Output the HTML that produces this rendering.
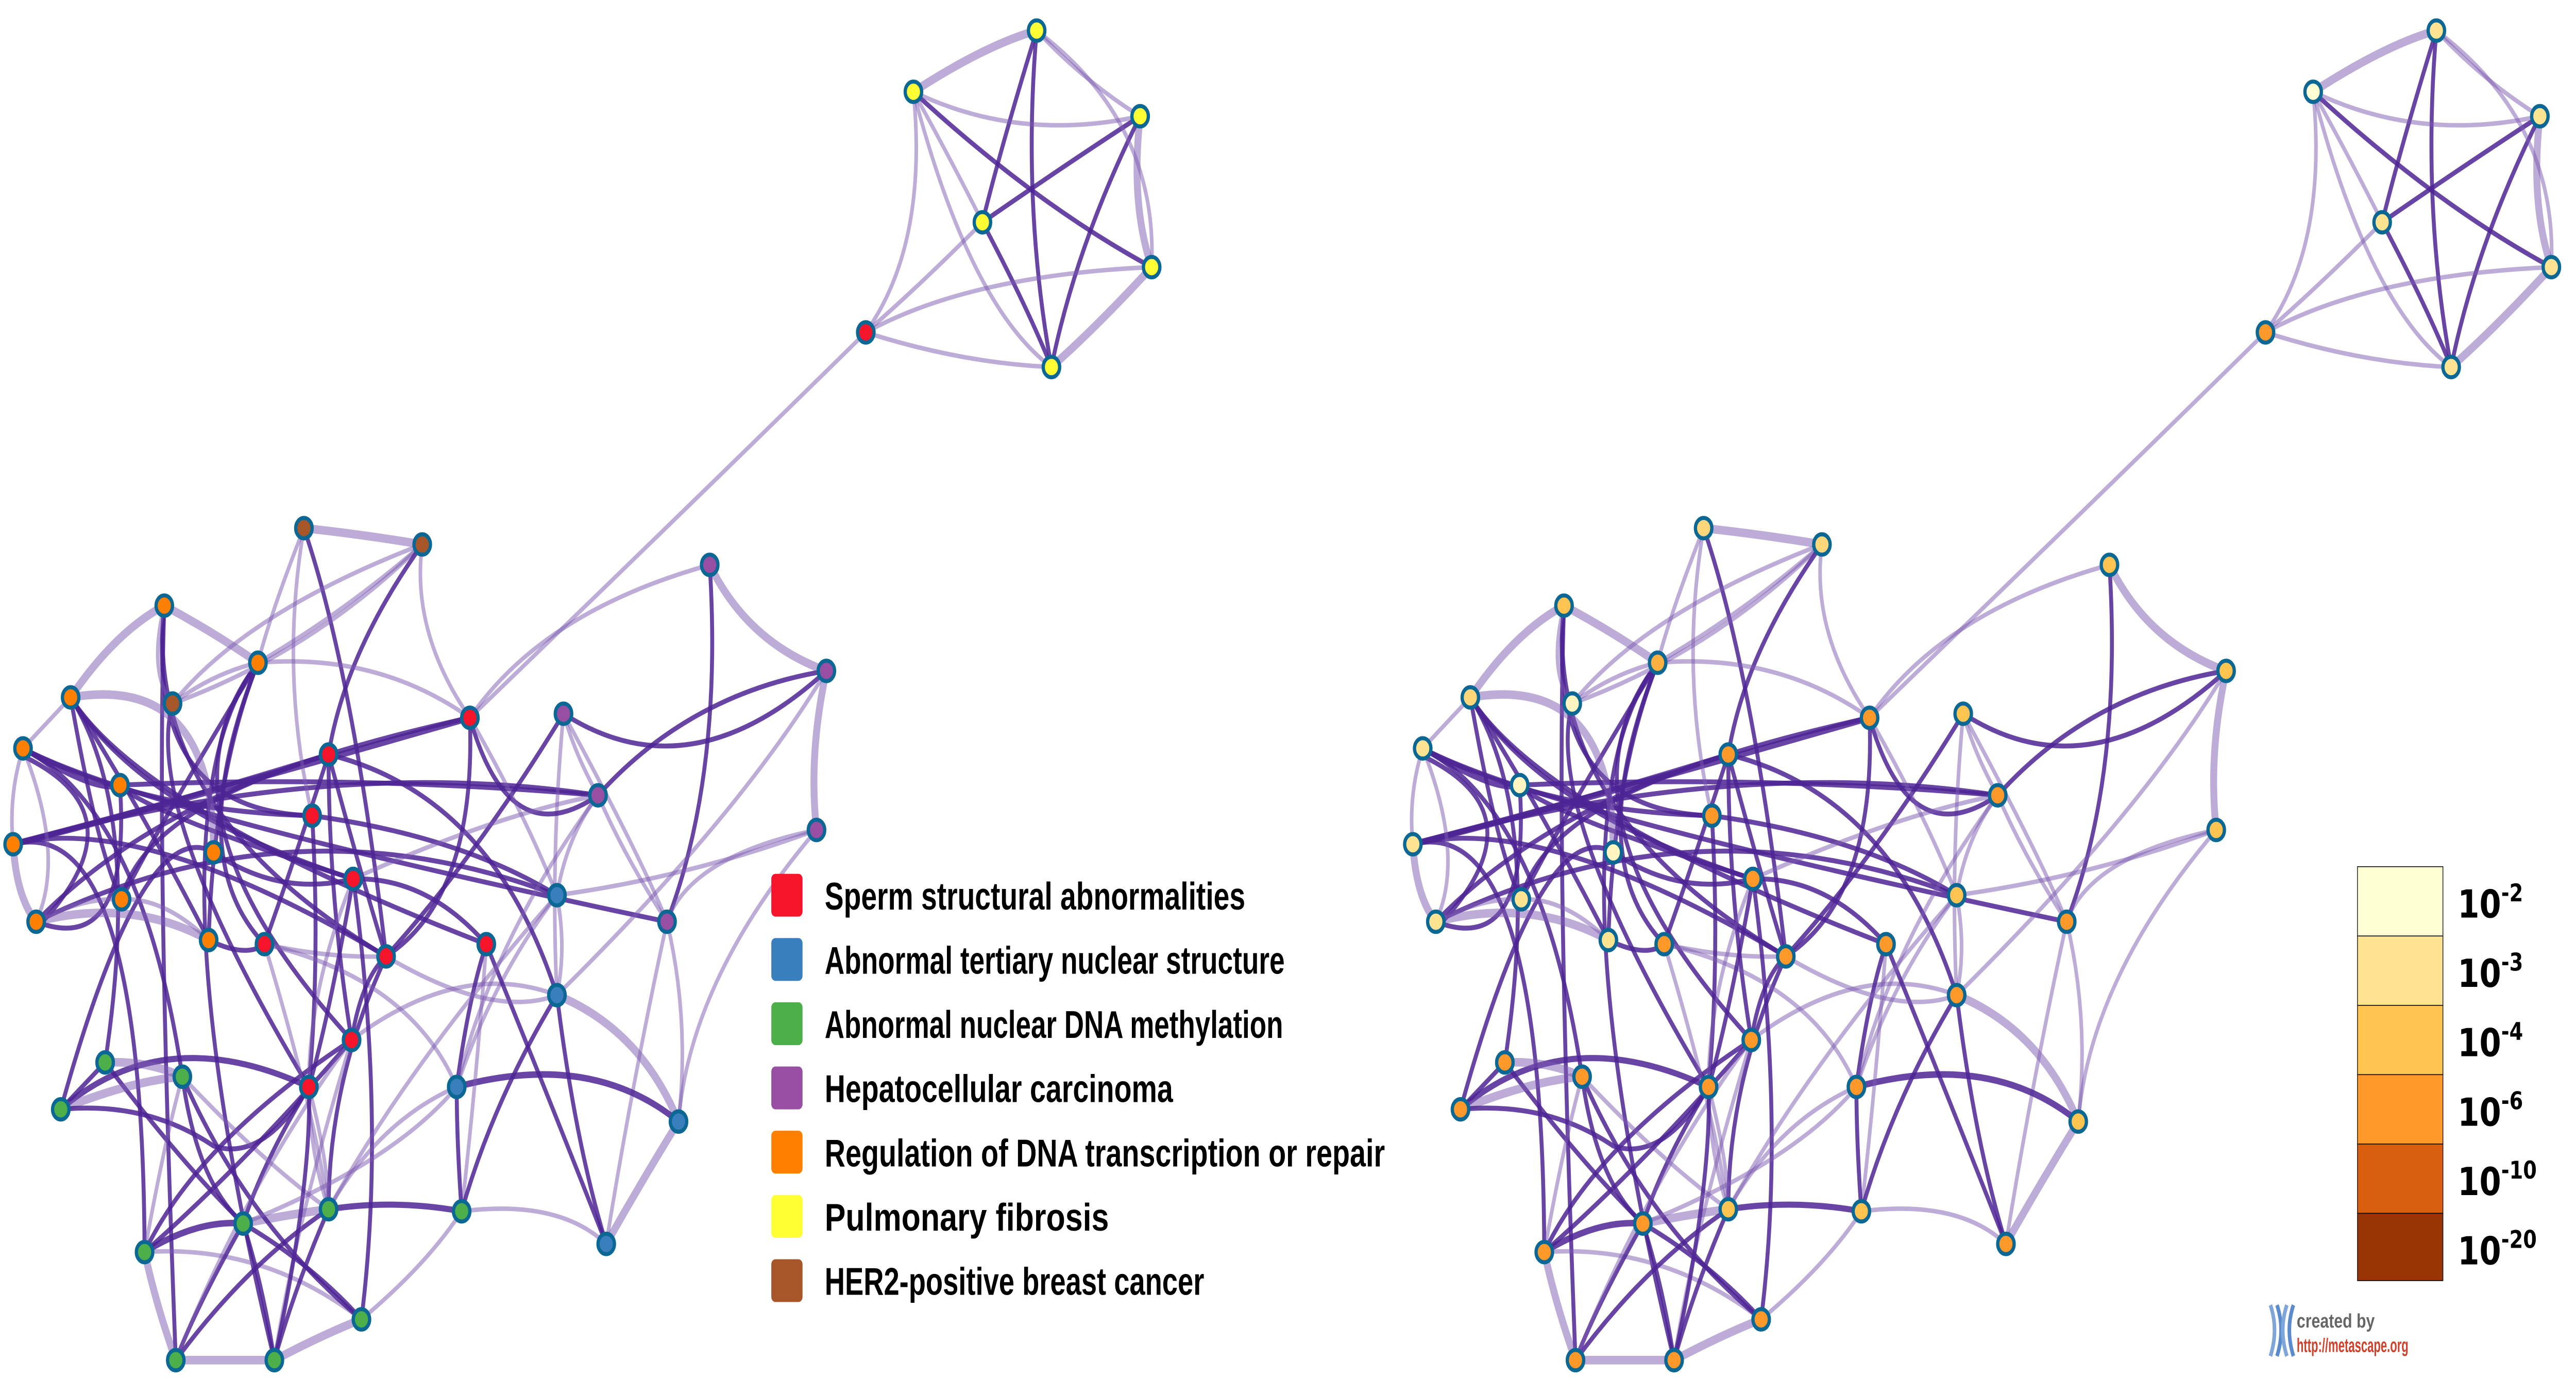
<!DOCTYPE html>
<html><head><meta charset="utf-8">
<style>
html,body{margin:0;padding:0;background:#fff;width:100%;height:100%;overflow:hidden;}
svg{display:block;position:absolute;left:0;top:0;width:100vw;height:100vh;}
.d{fill:none;stroke:#4e2494;stroke-opacity:.85;stroke-width:2.4;stroke-linecap:round;}
.l{fill:none;stroke:#7b5aaf;stroke-opacity:.5;stroke-width:2.2;stroke-linecap:round;}
.t{fill:none;stroke:#7b5aaf;stroke-opacity:.5;stroke-width:4.2;stroke-linecap:round;}
.n circle{stroke:#0b6894;stroke-width:2;}
.lg{font-family:"Liberation Sans Narrow","Liberation Sans",sans-serif;font-weight:bold;font-size:19px;fill:#000;}
.sc{font-family:"DejaVu Sans","Liberation Sans",sans-serif;font-weight:bold;fill:#000;}
</style></head>
<body>
<svg viewBox="0 0 1568 683.6" preserveAspectRatio="none" xmlns="http://www.w3.org/2000/svg">
<defs>
<g id="net">
<path class="t" d="M556,45 Q600,22 631,15"/>
<path class="l" d="M631,15 Q660,40 694,57"/>
<path class="d" d="M631,15 Q622,100 640,180"/>
<path class="d" d="M631,15 Q610,70 598,109"/>
<path class="l" d="M556,45 Q580,80 598,109"/>
<path class="d" d="M556,45 Q630,100 701,131"/>
<path class="l" d="M556,45 Q565,120 527,163"/>
<path class="l" d="M556,45 Q590,150 640,180"/>
<path class="d" d="M694,57 Q650,80 598,109"/>
<path class="t" d="M694,57 Q688,100 701,131"/>
<path class="d" d="M694,57 Q655,120 640,180"/>
<path class="d" d="M598,109 Q625,150 640,180"/>
<path class="l" d="M598,109 Q560,140 527,163"/>
<path class="t" d="M701,131 Q668,160 640,180"/>
<path class="l" d="M527,163 Q590,135 701,131"/>
<path class="l" d="M527,163 Q585,178 640,180"/>
<path class="l" d="M631,15 Q705,60 701,131"/>
<path class="l" d="M694,57 Q620,70 556,45"/>
<path class="l" d="M527,163 Q430,240 286,352"/>
<path class="d" d="M100,297 Q87,398 235,469"/>
<path class="d" d="M157,325 Q87,398 214,510"/>
<path class="d" d="M43,342 Q87,398 215,431"/>
<path class="d" d="M43,342 Q87,398 127,461"/>
<path class="d" d="M14,367 Q87,398 190,400"/>
<path class="d" d="M8,414 Q87,398 200,370"/>
<path class="d" d="M8,414 Q87,398 286,352" style="stroke-width:3.2"/>
<path class="d" d="M8,414 Q87,398 235,469"/>
<path class="d" d="M22,452 Q87,398 200,370"/>
<path class="d" d="M74,441 Q87,398 200,370"/>
<path class="d" d="M73,385 Q87,398 215,431"/>
<path class="d" d="M105,345 Q87,398 188,533"/>
<path class="d" d="M130,418 Q87,398 37,544"/>
<path class="d" d="M14,367 Q87,398 111,528"/>
<path class="d" d="M43,342 Q87,398 64,521"/>
<path class="d" d="M8,414 Q87,398 88,614"/>
<path class="d" d="M100,297 Q95,420 107,667"/>
<path class="d" d="M157,325 Q87,398 167,667"/>
<path class="d" d="M43,342 Q87,398 296,463"/>
<path class="d" d="M14,367 Q87,398 406,452"/>
<path class="d" d="M8,414 Q200,370 364,390"/>
<path class="d" d="M22,452 Q180,390 339,439"/>
<path class="d" d="M73,385 Q220,380 364,390"/>
<path class="d" d="M100,297 Q87,398 190,400"/>
<path class="d" d="M12,370 Q87,398 26,452"/>
<path class="d" d="M43,342 Q60,420 74,441"/>
<path class="d" d="M157,325 Q130,380 127,461"/>
<path class="d" d="M157,325 Q100,400 74,441"/>
<path class="d" d="M157,325 Q110,420 161,463"/>
<path class="d" d="M73,385 Q80,470 22,452"/>
<path class="d" d="M14,367 Q60,390 73,385"/>
<path class="t" d="M185,259 Q220,262 257,267"/>
<path class="l" d="M185,259 Q165,300 157,325"/>
<path class="d" d="M185,259 Q215,330 235,469"/>
<path class="l" d="M257,267 Q210,300 157,325"/>
<path class="l" d="M257,267 Q190,320 105,345"/>
<path class="d" d="M257,267 Q210,320 200,370"/>
<path class="l" d="M257,267 Q250,310 286,352"/>
<path class="l" d="M185,259 Q170,330 190,400"/>
<path class="t" d="M100,297 Q130,310 157,325"/>
<path class="l" d="M157,325 Q230,320 286,352"/>
<path class="l" d="M105,345 Q130,330 157,325"/>
<path class="l" d="M43,342 L14,367"/>
<path class="t" d="M43,342 Q70,310 100,297"/>
<path class="l" d="M14,367 Q5,390 8,414"/>
<path class="l" d="M14,367 Q40,420 22,452"/>
<path class="t" d="M8,414 Q10,440 22,452"/>
<path class="l" d="M22,452 Q50,440 74,441"/>
<path class="t" d="M22,452 Q80,440 127,461"/>
<path class="l" d="M74,441 Q100,440 127,461"/>
<path class="d" d="M130,418 Q170,440 215,431"/>
<path class="d" d="M127,461 Q150,470 161,463"/>
<path class="l" d="M161,463 Q200,470 235,469"/>
<path class="t" d="M43,342 Q130,330 130,418"/>
<path class="l" d="M100,297 Q90,330 105,345"/>
<path class="l" d="M105,345 Q150,300 257,267"/>
<path class="d" d="M200,370 Q240,360 286,352"/>
<path class="d" d="M286,352 Q290,440 235,469"/>
<path class="d" d="M343,350 Q290,420 235,469"/>
<path class="l" d="M343,350 Q350,370 364,390"/>
<path class="l" d="M343,350 Q335,420 339,488"/>
<path class="d" d="M343,350 Q420,390 503,329"/>
<path class="d" d="M364,390 Q420,340 503,329"/>
<path class="d" d="M432,277 Q440,380 406,452"/>
<path class="t" d="M432,277 Q455,315 503,329"/>
<path class="t" d="M503,329 Q492,370 497,407"/>
<path class="l" d="M497,407 Q420,420 406,452"/>
<path class="l" d="M406,452 Q385,530 369,610"/>
<path class="d" d="M190,400 Q280,410 339,439"/>
<path class="l" d="M364,390 Q345,410 339,439"/>
<path class="l" d="M339,439 Q345,465 339,488"/>
<path class="l" d="M339,439 Q300,480 278,533"/>
<path class="t" d="M339,488 Q390,505 413,550"/>
<path class="d" d="M339,488 Q350,560 369,610"/>
<path class="l" d="M339,488 Q280,470 214,510"/>
<path class="d" d="M278,533 Q360,515 413,550" style="stroke-width:3.2"/>
<path class="d" d="M278,533 Q285,490 296,463"/>
<path class="t" d="M413,550 Q390,580 369,610"/>
<path class="d" d="M296,463 Q260,430 215,431"/>
<path class="d" d="M296,463 Q330,530 369,610"/>
<path class="d" d="M235,469 Q200,530 200,593"/>
<path class="d" d="M215,431 Q235,550 220,647"/>
<path class="d" d="M200,370 Q200,440 214,510"/>
<path class="d" d="M200,370 Q180,420 161,463"/>
<path class="d" d="M190,400 Q195,470 188,533"/>
<path class="d" d="M188,533 Q100,500 37,544" style="stroke-width:3"/>
<path class="d" d="M214,510 Q120,560 88,614"/>
<path class="d" d="M188,533 Q160,570 148,600"/>
<path class="d" d="M200,370 Q300,390 339,488"/>
<path class="d" d="M286,352 Q310,420 364,390"/>
<path class="l" d="M503,329 Q450,400 339,488"/>
<path class="l" d="M497,407 Q420,480 413,550"/>
<path class="l" d="M406,452 Q420,500 413,550"/>
<path class="l" d="M364,390 Q380,420 406,452"/>
<path class="l" d="M343,350 Q390,420 406,452"/>
<path class="l" d="M364,390 Q300,460 278,533"/>
<path class="l" d="M339,439 Q250,520 200,593"/>
<path class="l" d="M296,463 Q290,530 281,594"/>
<path class="d" d="M339,488 Q300,540 281,594"/>
<path class="l" d="M278,533 Q230,550 200,593"/>
<path class="l" d="M215,431 Q170,520 200,593"/>
<path class="l" d="M161,463 Q190,540 200,593"/>
<path class="l" d="M188,533 Q200,570 200,593"/>
<path class="l" d="M286,352 Q330,300 432,277"/>
<path class="l" d="M286,352 Q320,400 339,439"/>
<path class="l" d="M215,431 Q300,400 364,390"/>
<path class="l" d="M235,469 Q300,500 339,488"/>
<path class="l" d="M161,463 Q250,480 278,533"/>
<path class="l" d="M497,407 Q420,430 339,439"/>
<path class="d" d="M200,370 Q220,430 235,469"/>
<path class="d" d="M214,510 Q220,480 235,469"/>
<path class="d" d="M188,533 Q200,500 215,431"/>
<path class="d" d="M200,593 Q240,588 281,594" style="stroke-width:3"/>
<path class="l" d="M281,594 Q340,588 369,610"/>
<path class="d" d="M281,594 Q278,560 278,533"/>
<path class="t" d="M148,600 Q180,595 200,593"/>
<path class="t" d="M88,614 Q95,640 107,667"/>
<path class="t" d="M107,667 L167,667"/>
<path class="t" d="M167,667 Q195,655 220,647"/>
<path class="d" d="M88,614 Q120,598 148,600" style="stroke-width:3.2"/>
<path class="l" d="M88,614 Q160,610 220,647"/>
<path class="d" d="M148,600 Q120,640 107,667"/>
<path class="d" d="M148,600 Q160,630 167,667"/>
<path class="d" d="M148,600 Q190,620 220,647"/>
<path class="d" d="M200,593 Q150,620 107,667"/>
<path class="d" d="M200,593 Q180,630 167,667"/>
<path class="d" d="M111,528 Q150,600 220,647"/>
<path class="d" d="M64,521 Q110,570 148,600"/>
<path class="t" d="M64,521 Q90,520 111,528"/>
<path class="d" d="M37,544 L64,521"/>
<path class="t" d="M37,544 Q80,530 111,528"/>
<path class="d" d="M37,544 Q90,540 130,562 Q160,570 188,533"/>
<path class="l" d="M111,528 Q160,570 200,593"/>
<path class="d" d="M111,528 Q120,580 148,600"/>
<path class="l" d="M88,614 Q100,560 111,528"/>
<path class="d" d="M88,614 Q150,570 214,510"/>
<path class="l" d="M167,667 Q180,600 214,510"/>
<path class="l" d="M107,667 Q150,580 214,510"/>
<path class="d" d="M167,667 Q190,580 188,533"/>
<path class="l" d="M220,647 Q260,620 281,594"/>
<path class="l" d="M148,600 Q240,570 278,533"/>
</g>
</defs>

<use href="#net"/>
<use href="#net" transform="translate(852,0)"/>

<g class="n">
<circle cx="631" cy="15" r="5" fill="#ffff33"/>
<circle cx="556" cy="45" r="5" fill="#ffff33"/>
<circle cx="694" cy="57" r="5" fill="#ffff33"/>
<circle cx="598" cy="109" r="5" fill="#ffff33"/>
<circle cx="701" cy="131" r="5" fill="#ffff33"/>
<circle cx="640" cy="180" r="5" fill="#ffff33"/>
<circle cx="527" cy="163" r="5" fill="#f5142a"/>
<circle cx="185" cy="259" r="5" fill="#a65628"/>
<circle cx="257" cy="267" r="5" fill="#a65628"/>
<circle cx="100" cy="297" r="5" fill="#ff7f00"/>
<circle cx="157" cy="325" r="5" fill="#ff7f00"/>
<circle cx="105" cy="345" r="5" fill="#a65628"/>
<circle cx="43" cy="342" r="5" fill="#ff7f00"/>
<circle cx="14" cy="367" r="5" fill="#ff7f00"/>
<circle cx="73" cy="385" r="5" fill="#ff7f00"/>
<circle cx="8" cy="414" r="5" fill="#ff7f00"/>
<circle cx="130" cy="418" r="5" fill="#ff7f00"/>
<circle cx="22" cy="452" r="5" fill="#ff7f00"/>
<circle cx="74" cy="441" r="5" fill="#ff7f00"/>
<circle cx="127" cy="461" r="5" fill="#ff7f00"/>
<circle cx="200" cy="370" r="5" fill="#f5142a"/>
<circle cx="190" cy="400" r="5" fill="#f5142a"/>
<circle cx="215" cy="431" r="5" fill="#f5142a"/>
<circle cx="161" cy="463" r="5" fill="#f5142a"/>
<circle cx="235" cy="469" r="5" fill="#f5142a"/>
<circle cx="214" cy="510" r="5" fill="#f5142a"/>
<circle cx="188" cy="533" r="5" fill="#f5142a"/>
<circle cx="286" cy="352" r="5" fill="#f5142a"/>
<circle cx="343" cy="350" r="5" fill="#984ea3"/>
<circle cx="432" cy="277" r="5" fill="#984ea3"/>
<circle cx="503" cy="329" r="5" fill="#984ea3"/>
<circle cx="364" cy="390" r="5" fill="#984ea3"/>
<circle cx="497" cy="407" r="5" fill="#984ea3"/>
<circle cx="406" cy="452" r="5" fill="#984ea3"/>
<circle cx="339" cy="439" r="5" fill="#3a7fbd"/>
<circle cx="296" cy="463" r="5" fill="#f5142a"/>
<circle cx="339" cy="488" r="5" fill="#3a7fbd"/>
<circle cx="278" cy="533" r="5" fill="#3a7fbd"/>
<circle cx="413" cy="550" r="5" fill="#3a7fbd"/>
<circle cx="369" cy="610" r="5" fill="#3a7fbd"/>
<circle cx="64" cy="521" r="5" fill="#4daf4a"/>
<circle cx="111" cy="528" r="5" fill="#4daf4a"/>
<circle cx="37" cy="544" r="5" fill="#4daf4a"/>
<circle cx="148" cy="600" r="5" fill="#4daf4a"/>
<circle cx="200" cy="593" r="5" fill="#4daf4a"/>
<circle cx="281" cy="594" r="5" fill="#4daf4a"/>
<circle cx="88" cy="614" r="5" fill="#4daf4a"/>
<circle cx="220" cy="647" r="5" fill="#4daf4a"/>
<circle cx="107" cy="667" r="5" fill="#4daf4a"/>
<circle cx="167" cy="667" r="5" fill="#4daf4a"/>
</g>

<g class="n" transform="translate(852,0)">
<circle cx="631" cy="15" r="5" fill="#fee391"/>
<circle cx="556" cy="45" r="5" fill="#ffffd4"/>
<circle cx="694" cy="57" r="5" fill="#fee391"/>
<circle cx="598" cy="109" r="5" fill="#fee391"/>
<circle cx="701" cy="131" r="5" fill="#fee391"/>
<circle cx="640" cy="180" r="5" fill="#fee391"/>
<circle cx="527" cy="163" r="5" fill="#fe9929"/>
<circle cx="185" cy="259" r="5" fill="#fed77a"/>
<circle cx="257" cy="267" r="5" fill="#fed77a"/>
<circle cx="100" cy="297" r="5" fill="#fec44f"/>
<circle cx="157" cy="325" r="5" fill="#fbb040"/>
<circle cx="105" cy="345" r="5" fill="#fff5c0"/>
<circle cx="43" cy="342" r="5" fill="#fed77a"/>
<circle cx="14" cy="367" r="5" fill="#fee391"/>
<circle cx="73" cy="385" r="5" fill="#fff5c0"/>
<circle cx="8" cy="414" r="5" fill="#fee391"/>
<circle cx="130" cy="418" r="5" fill="#fff5c0"/>
<circle cx="22" cy="452" r="5" fill="#fee391"/>
<circle cx="74" cy="441" r="5" fill="#fee391"/>
<circle cx="127" cy="461" r="5" fill="#fee391"/>
<circle cx="200" cy="370" r="5" fill="#fe9929"/>
<circle cx="190" cy="400" r="5" fill="#fe9929"/>
<circle cx="215" cy="431" r="5" fill="#fe9929"/>
<circle cx="161" cy="463" r="5" fill="#fe9929"/>
<circle cx="235" cy="469" r="5" fill="#fe9929"/>
<circle cx="214" cy="510" r="5" fill="#fe9929"/>
<circle cx="188" cy="533" r="5" fill="#fe9929"/>
<circle cx="286" cy="352" r="5" fill="#fe9929"/>
<circle cx="343" cy="350" r="5" fill="#fec44f"/>
<circle cx="432" cy="277" r="5" fill="#fec44f"/>
<circle cx="503" cy="329" r="5" fill="#fec44f"/>
<circle cx="364" cy="390" r="5" fill="#fe9929"/>
<circle cx="497" cy="407" r="5" fill="#fec44f"/>
<circle cx="406" cy="452" r="5" fill="#fe9929"/>
<circle cx="339" cy="439" r="5" fill="#fec44f"/>
<circle cx="296" cy="463" r="5" fill="#fe9929"/>
<circle cx="339" cy="488" r="5" fill="#fe9929"/>
<circle cx="278" cy="533" r="5" fill="#fe9929"/>
<circle cx="413" cy="550" r="5" fill="#fec44f"/>
<circle cx="369" cy="610" r="5" fill="#fe9929"/>
<circle cx="64" cy="521" r="5" fill="#fe9929"/>
<circle cx="111" cy="528" r="5" fill="#fe9929"/>
<circle cx="37" cy="544" r="5" fill="#fe9929"/>
<circle cx="148" cy="600" r="5" fill="#fe9929"/>
<circle cx="200" cy="593" r="5" fill="#fec44f"/>
<circle cx="281" cy="594" r="5" fill="#fec44f"/>
<circle cx="88" cy="614" r="5" fill="#fe9929"/>
<circle cx="220" cy="647" r="5" fill="#fe9929"/>
<circle cx="107" cy="667" r="5" fill="#fe9929"/>
<circle cx="167" cy="667" r="5" fill="#fe9929"/>
</g>

<g>
<rect x="469.5" y="428.5" width="19" height="21" rx="2.5" fill="#f5142a"/>
<rect x="469.5" y="460" width="19" height="21" rx="2.5" fill="#3a7fbd"/>
<rect x="469.5" y="491.5" width="19" height="21" rx="2.5" fill="#4daf4a"/>
<rect x="469.5" y="523" width="19" height="21" rx="2.5" fill="#984ea3"/>
<rect x="469.5" y="554.5" width="19" height="21" rx="2.5" fill="#ff7f00"/>
<rect x="469.5" y="586" width="19" height="21" rx="2.5" fill="#ffff33"/>
<rect x="469.5" y="617.5" width="19" height="21" rx="2.5" fill="#a65628"/>
<text class="lg" x="502" y="446" textLength="256" lengthAdjust="spacingAndGlyphs">Sperm structural abnormalities</text>
<text class="lg" x="502" y="477.5" textLength="280" lengthAdjust="spacingAndGlyphs">Abnormal tertiary nuclear structure</text>
<text class="lg" x="502" y="509" textLength="279" lengthAdjust="spacingAndGlyphs">Abnormal nuclear DNA methylation</text>
<text class="lg" x="502" y="540.5" textLength="212" lengthAdjust="spacingAndGlyphs">Hepatocellular carcinoma</text>
<text class="lg" x="502" y="572" textLength="341" lengthAdjust="spacingAndGlyphs">Regulation of DNA transcription or repair</text>
<text class="lg" x="502" y="603.5" textLength="173" lengthAdjust="spacingAndGlyphs">Pulmonary fibrosis</text>
<text class="lg" x="502" y="635" textLength="231" lengthAdjust="spacingAndGlyphs">HER2-positive breast cancer</text>
</g>

<g stroke="#000" stroke-width="0.4">
<rect x="1435" y="425" width="52" height="34" fill="#ffffd4"/>
<rect x="1435" y="459" width="52" height="34" fill="#fee391"/>
<rect x="1435" y="493" width="52" height="34" fill="#fec44f"/>
<rect x="1435" y="527" width="52" height="34" fill="#fe9929"/>
<rect x="1435" y="561" width="52" height="34" fill="#d95f0e"/>
<rect x="1435" y="595" width="52" height="33" fill="#993404"/>
</g>
<g class="sc">
<text x="1496" y="450" font-size="19">10<tspan font-size="12" dy="-8">-2</tspan></text>
<text x="1496" y="484" font-size="19">10<tspan font-size="12" dy="-8">-3</tspan></text>
<text x="1496" y="518" font-size="19">10<tspan font-size="12" dy="-8">-4</tspan></text>
<text x="1496" y="552" font-size="19">10<tspan font-size="12" dy="-8">-6</tspan></text>
<text x="1496" y="586" font-size="19">10<tspan font-size="12" dy="-8">-10</tspan></text>
<text x="1496" y="620" font-size="19">10<tspan font-size="12" dy="-8">-20</tspan></text>
</g>

<g>
<path d="M1382,640 Q1387,652 1382,665" fill="none" stroke="#7ea6d8" stroke-width="2.2"/>
<path d="M1386,640 Q1391,652 1386,665" fill="none" stroke="#5b8bcf" stroke-width="2.2"/>
<path d="M1392,640 Q1387,652 1392,665" fill="none" stroke="#7ea6d8" stroke-width="2.2"/>
<path d="M1396,640 Q1391,652 1396,665" fill="none" stroke="#5b8bcf" stroke-width="2.2"/>
<text x="1398" y="651" font-family="Liberation Sans, sans-serif" font-weight="bold" font-size="9.5" fill="#666">created by</text>
<text x="1398" y="663" font-family="Liberation Sans, sans-serif" font-weight="bold" font-size="9.5" fill="#d0402a" textLength="68" lengthAdjust="spacingAndGlyphs">http://metascape.org</text>
</g>
</svg>
</body></html>
